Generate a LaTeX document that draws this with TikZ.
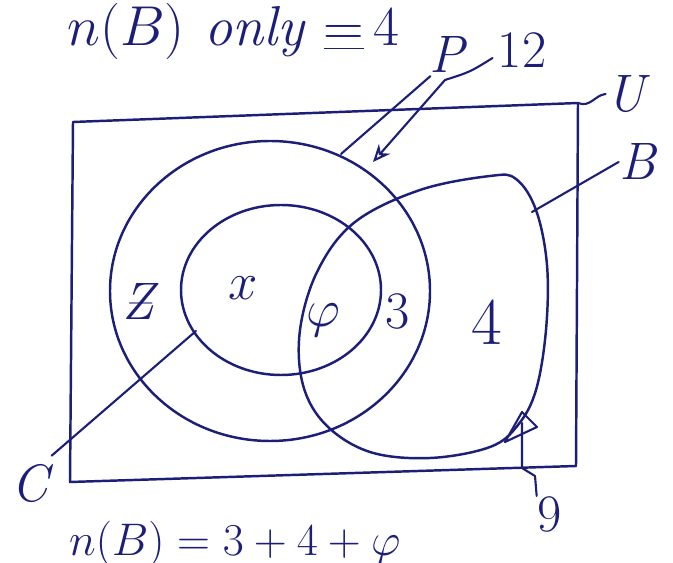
\RequirePackage{fix-cm}
\documentclass[tikz,border=0pt]{standalone}
\usetikzlibrary{arrows.meta}
\definecolor{ink}{RGB}{28,30,120}

\begin{document}
\begin{tikzpicture}[
    x=0.02cm, y=-0.02cm,
    line width=1.4pt, draw=ink, line cap=round, line join=round,
    >={Stealth[length=3.5mm,width=3mm,open]},
    lbl/.style={text=ink, font=\fontsize{30}{32}\selectfont\itshape, inner sep=0pt},
    num/.style={text=ink, font=\fontsize{30}{32}\selectfont, inner sep=0pt},
    big/.style={text=ink, font=\fontsize{32}{34}\selectfont\itshape, inner sep=0pt},
    pointer/.style={line width=1.2pt},
  ]
  \useasboundingbox (0,0) rectangle (673,563);

  % Universal set
  \coordinate (tl) at (73,122);
  \coordinate (tr) at (578,103);
  \coordinate (br) at (576,466);
  \coordinate (bl) at (70,482);
  \draw (tl) -- (tr) -- (br) -- (bl) -- cycle;

  % Sets P, C and B
  \draw (270,291) ellipse [x radius=160, y radius=150];
  \draw (281,290) ellipse [x radius=100, y radius=85];
  \draw plot[smooth cycle, tension=0.6] coordinates {
    (300,330) (318,270) (355,222) (420,190) (490,176) (516,179) (536,210)
    (547,265) (546,330) (536,390) (518,425) (490,447) (430,458) (370,452)
    (326,425) (303,385)};

  % Region values
  \node[lbl] (zval) at (138,302) {\ooalign{Z\cr\hidewidth\raisebox{0.1ex}{--}\hidewidth}};
  \node[lbl] (xval) at (243,288) {$x$};
  \node[lbl] (phival) at (323,320) {$\varphi$};
  \node[num] (threeval) at (398,312) {3};
  \node[num, font=\fontsize{38}{40}\selectfont] (fourval) at (487,322) {4};

  % Set names
  \node[lbl] (clab) at (30,484) {C};
  \node[lbl] (plab) at (447,55) {P};
  \node[num] (nlab) at (522,50) {12};
  \node[lbl] (ulab) at (626,94) {U};
  \node[lbl] (blab) at (638,162) {B};
  \node[num] (nine) at (550,515) {9};

  % Pointers
  \coordinate (conC) at (196,331);
  \coordinate (conP) at (341,154);
  \coordinate (conN) at (373,162);
  \coordinate (conB) at (532,212);
  \draw[pointer] (clab.north east) ++(2,-8) -- (conC);
  \draw[pointer] (plab.south west) ++(2,2) -- (conP);
  \draw[pointer, ->] (nlab.west) ++(-4,8) .. controls (470,72) .. (445,80) -- (conN);
  \draw[pointer] (tr) .. controls (590,108) and (595,95) .. (ulab.west);
  \draw[pointer] (conB) -- (blab.west);

  % Triangle mark and 9
  \coordinate (tri) at (522,423);
  \draw[pointer] (522,412) -- (537,427) -- (505,442) -- cycle;
  \draw[pointer] (tri) -- (522,468) -- (535,476) -- (nine.north west);

  % Working written above and below
  \node[big, anchor=base west] (topline) at (66,46) {$n(B)$ only $\underline{=}\,\mathrm{4}$};
  \node[big, font=\fontsize{26}{28}\selectfont\itshape, anchor=base west] (botline) at (68,556)
    {$n(B) = 3+4+\varphi$};
\end{tikzpicture}
\end{document}
